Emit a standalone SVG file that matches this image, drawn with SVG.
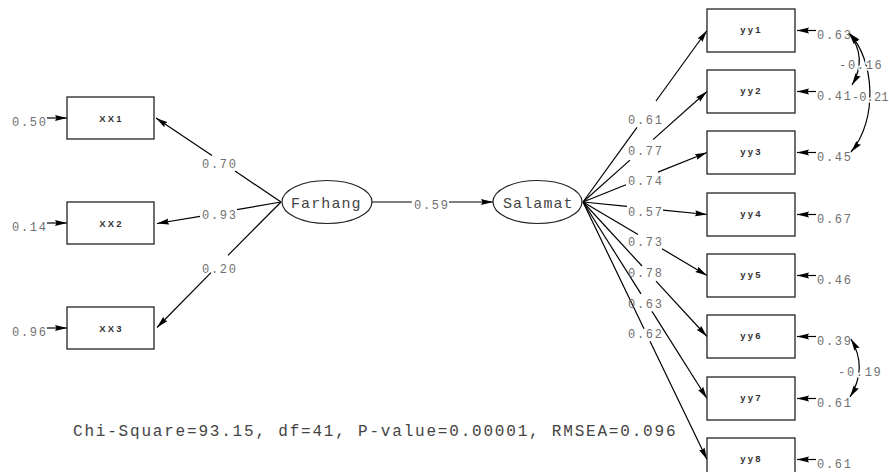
<svg xmlns="http://www.w3.org/2000/svg" width="889" height="472" viewBox="0 0 889 472">
<style>
.box{fill:#fff;stroke:#222;stroke-width:1.3}
.ell{fill:#fff;stroke:#222;stroke-width:1.2}
.ln{fill:none;stroke:#000;stroke-width:1.2}
.bt{font-family:"Liberation Sans",Arial,sans-serif;font-weight:bold;font-size:9.5px;letter-spacing:2.2px;fill:#333;text-anchor:middle}
.lt{font-family:"Liberation Mono","Courier New",monospace;font-size:15px;letter-spacing:1.1px;fill:#444}
.num{font-family:"Liberation Mono","Courier New",monospace;font-size:12px;letter-spacing:1.7px;fill:#707070}
.halo{stroke:#fff;stroke-width:3;paint-order:stroke}
.fit{font-family:"Liberation Mono","Courier New",monospace;font-size:16px;letter-spacing:1.8px;fill:#444}
</style>
<defs>
<marker id="ah" markerUnits="userSpaceOnUse" markerWidth="13" markerHeight="8" refX="12" refY="4" orient="auto"><path d="M0,1 L12,4 L0,7 L1.5,4 z" fill="#000"/></marker>
<marker id="ahs" markerUnits="userSpaceOnUse" markerWidth="13" markerHeight="8" refX="12" refY="4" orient="auto-start-reverse"><path d="M0,1 L12,4 L0,7 L1.5,4 z" fill="#000"/></marker>
</defs>
<rect width="889" height="472" fill="#fff"/>

<g id="connectors" class="ln">
<line x1="281" y1="202" x2="235" y2="171"/>
<line x1="212" y1="155.6" x2="156" y2="118" marker-end="url(#ah)"/>
<line x1="281" y1="202" x2="237" y2="209.7"/>
<line x1="200" y1="216.3" x2="157" y2="223.5" marker-end="url(#ah)"/>
<line x1="281" y1="202" x2="228" y2="255.4"/>
<line x1="211" y1="272.6" x2="157" y2="327.5" marker-end="url(#ah)"/>
<line x1="372" y1="202" x2="412" y2="202"/>
<line x1="449" y1="202" x2="493" y2="202" marker-end="url(#ah)"/>
<line x1="583" y1="202" x2="637" y2="127.3"/>
<line x1="656" y1="101" x2="707" y2="30.5" marker-end="url(#ah)"/>
<line x1="583" y1="202" x2="630" y2="160.1"/>
<line x1="653" y1="139.6" x2="707" y2="91.5" marker-end="url(#ah)"/>
<line x1="583" y1="202" x2="626" y2="184.8"/>
<line x1="658" y1="172.1" x2="707" y2="152.5" marker-end="url(#ah)"/>
<line x1="583" y1="202" x2="627" y2="206.4"/>
<line x1="663" y1="210.1" x2="707" y2="214.5" marker-end="url(#ah)"/>
<line x1="583" y1="202" x2="638" y2="234.6"/>
<line x1="662" y1="248.8" x2="707" y2="275.5" marker-end="url(#ah)"/>
<line x1="583" y1="202" x2="642" y2="266"/>
<line x1="656" y1="281.2" x2="707" y2="336.5" marker-end="url(#ah)"/>
<line x1="583" y1="202" x2="641" y2="293.9"/>
<line x1="652" y1="311.4" x2="707" y2="398.5" marker-end="url(#ah)"/>
<line x1="583" y1="202" x2="644" y2="328.7"/>
<line x1="650" y1="341.2" x2="707" y2="459.5" marker-end="url(#ah)"/>
<line x1="47" y1="118" x2="67" y2="118" marker-end="url(#ah)"/>
<line x1="47" y1="223" x2="67" y2="223" marker-end="url(#ah)"/>
<line x1="47" y1="328" x2="67" y2="328" marker-end="url(#ah)"/>
<line x1="816" y1="30.5" x2="797" y2="30.5" marker-end="url(#ah)"/>
<line x1="816" y1="91.5" x2="797" y2="91.5" marker-end="url(#ah)"/>
<line x1="816" y1="152.5" x2="797" y2="152.5" marker-end="url(#ah)"/>
<line x1="816" y1="214.5" x2="797" y2="214.5" marker-end="url(#ah)"/>
<line x1="816" y1="275.5" x2="797" y2="275.5" marker-end="url(#ah)"/>
<line x1="816" y1="336.5" x2="797" y2="336.5" marker-end="url(#ah)"/>
<line x1="816" y1="398.5" x2="797" y2="398.5" marker-end="url(#ah)"/>
<line x1="816" y1="459.5" x2="797" y2="459.5" marker-end="url(#ah)"/>
<path d="M849,33 Q868,58 852,85" marker-start="url(#ahs)" marker-end="url(#ahs)"/>
<path d="M849,33 C875,60 878,120 851,152" marker-start="url(#ahs)" marker-end="url(#ahs)"/>
<path d="M851,339 Q868,368 850,397" marker-start="url(#ahs)" marker-end="url(#ahs)"/>
</g>

<g id="path-labels" class="num">
<text x="202" y="168">0.70</text>
<text x="202" y="219">0.93</text>
<text x="202" y="273">0.20</text>
<text x="414" y="209">0.59</text>
<text x="628" y="124">0.61</text>
<text x="628" y="154.6">0.77</text>
<text x="628" y="185.2">0.74</text>
<text x="628" y="215.8">0.57</text>
<text x="628" y="246.4">0.73</text>
<text x="628" y="277">0.78</text>
<text x="628" y="307.6">0.63</text>
<text x="628" y="338.2">0.62</text>
<text class="halo" x="839" y="68.5">-0.16</text>
<text class="halo" x="852" y="100.5" style="letter-spacing:0.1px">-0.21</text>
<text class="halo" x="838" y="376">-0.19</text>
</g>

<g id="error-labels" class="num">
<text x="12" y="126">0.50</text>
<text x="12" y="231">0.14</text>
<text x="12" y="336">0.96</text>
<text x="817" y="38.5">0.63</text>
<text x="817" y="99.5">0.41</text>
<text x="817" y="160.5">0.45</text>
<text x="817" y="222.5">0.67</text>
<text x="817" y="283.5">0.46</text>
<text x="817" y="344.5">0.39</text>
<text x="817" y="406.5">0.61</text>
<text x="817" y="467.5">0.61</text>
</g>

<g id="XX1"><rect class="box" x="67" y="97" width="87" height="42"/><text class="bt" x="111.5" y="121.5">XX1</text></g>
<g id="XX2"><rect class="box" x="67" y="202" width="87" height="42"/><text class="bt" x="111.5" y="226.5">XX2</text></g>
<g id="XX3"><rect class="box" x="67" y="307" width="87" height="42"/><text class="bt" x="111.5" y="331.5">XX3</text></g>

<g id="Farhang"><ellipse class="ell" cx="327" cy="202" rx="45" ry="21.5"/><text class="lt" x="291" y="208">Farhang</text></g>
<g id="Salamat"><ellipse class="ell" cx="537.5" cy="202" rx="44.5" ry="21.5"/><text class="lt" x="503" y="208">Salamat</text></g>

<g id="yy1"><rect class="box" x="707" y="9" width="88" height="43"/><text class="bt" x="751.5" y="33">yy1</text></g>
<g id="yy2"><rect class="box" x="707" y="70" width="88" height="43"/><text class="bt" x="751.5" y="94">yy2</text></g>
<g id="yy3"><rect class="box" x="707" y="131" width="88" height="43"/><text class="bt" x="751.5" y="155">yy3</text></g>
<g id="yy4"><rect class="box" x="707" y="193" width="88" height="43"/><text class="bt" x="751.5" y="217">yy4</text></g>
<g id="yy5"><rect class="box" x="707" y="254" width="88" height="43"/><text class="bt" x="751.5" y="278">yy5</text></g>
<g id="yy6"><rect class="box" x="707" y="315" width="88" height="43"/><text class="bt" x="751.5" y="339">yy6</text></g>
<g id="yy7"><rect class="box" x="707" y="377" width="88" height="43"/><text class="bt" x="751.5" y="401">yy7</text></g>
<g id="yy8"><rect class="box" x="707" y="438" width="88" height="43"/><text class="bt" x="751.5" y="462">yy8</text></g>

<text class="fit" x="73" y="436">Chi-Square=93.15, df=41, P-value=0.00001, RMSEA=0.096</text>
</svg>
